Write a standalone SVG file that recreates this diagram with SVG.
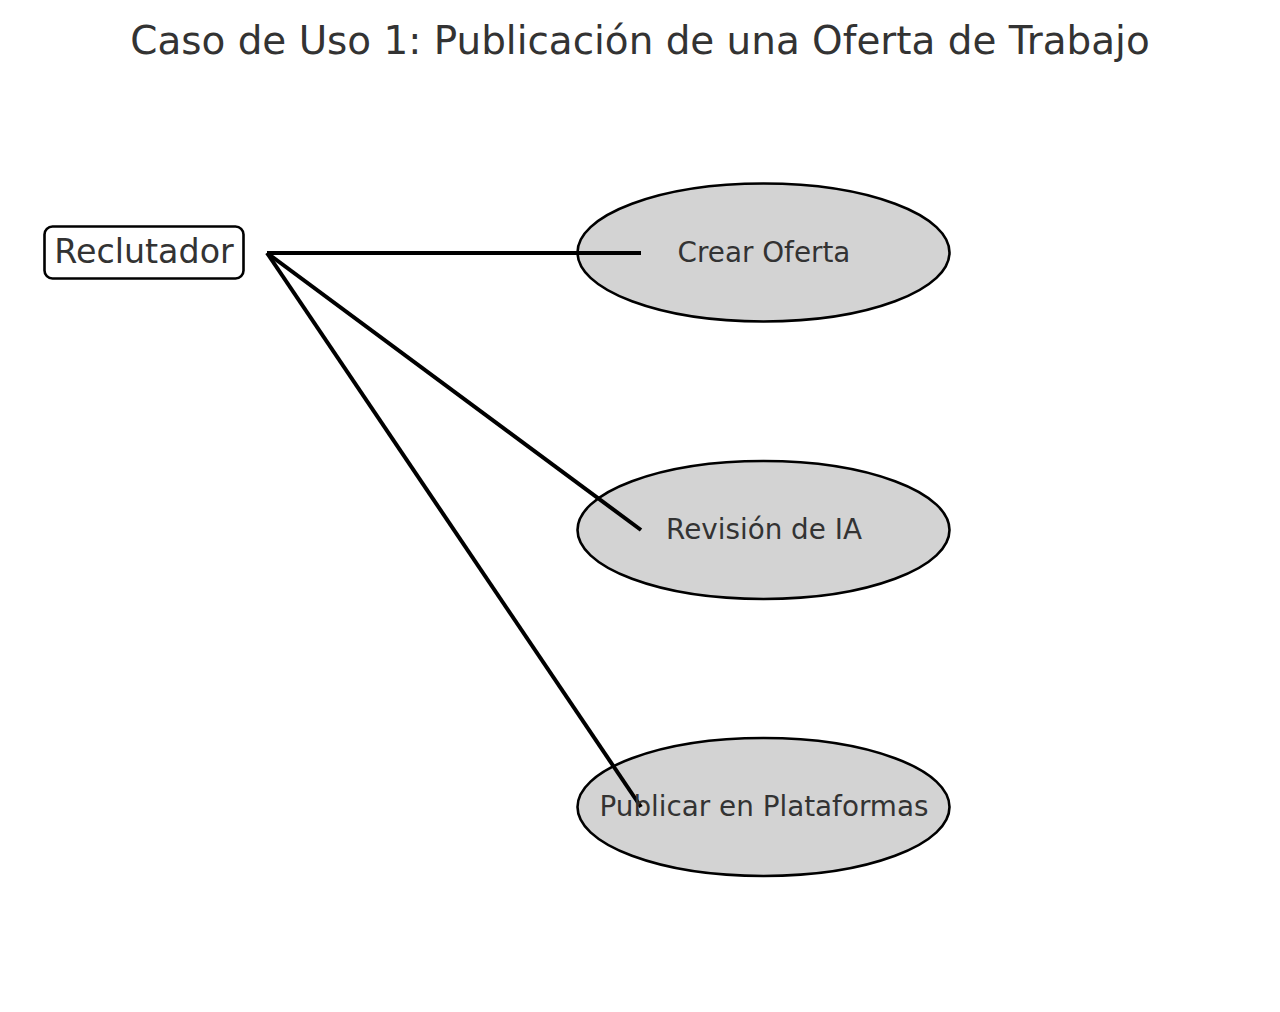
<svg xmlns="http://www.w3.org/2000/svg" width="1280" height="1012" viewBox="0 0 1280 1012">
<style>
  text { font-family: "DejaVu Sans", "Liberation Sans", sans-serif; fill: #333333; text-anchor: middle; }
  .title { font-size: 38.9px; }
  .actor { font-size: 33.3px; }
  .uc { font-size: 27.8px; }
  .ell { fill: #d3d3d3; stroke: #000000; stroke-width: 2.6; }
  .conn line { stroke: #000000; stroke-width: 4; stroke-linecap: butt; }
</style>
<rect width="1280" height="1012" fill="#ffffff"/>
<text class="title" x="640" y="53.5">Caso de Uso 1: Publicación de una Oferta de Trabajo</text>
<g id="actor-reclutador">
  <rect x="44.5" y="226.5" width="199" height="52" rx="8" ry="8" fill="#ffffff" stroke="#000000" stroke-width="2.6"/>
  <text class="actor" x="144" y="262.5">Reclutador</text>
</g>
<g id="uc-crear-oferta">
  <ellipse class="ell" cx="763.5" cy="252.5" rx="186" ry="69"/>
</g>
<g id="uc-revision-ia">
  <ellipse class="ell" cx="763.5" cy="530" rx="186" ry="69"/>
</g>
<g id="uc-publicar">
  <ellipse class="ell" cx="763.5" cy="807" rx="186" ry="69"/>
</g>
<g id="connectors" class="conn">
  <line x1="267" y1="253" x2="641" y2="253"/>
  <line x1="267" y1="253" x2="641" y2="530"/>
  <line x1="267" y1="253" x2="641" y2="807"/>
</g>
<g id="labels">
  <text class="uc" x="764" y="261.5">Crear Oferta</text>
  <text class="uc" x="764" y="538.5">Revisión de IA</text>
  <text class="uc" x="764" y="815.5">Publicar en Plataformas</text>
</g>
</svg>
